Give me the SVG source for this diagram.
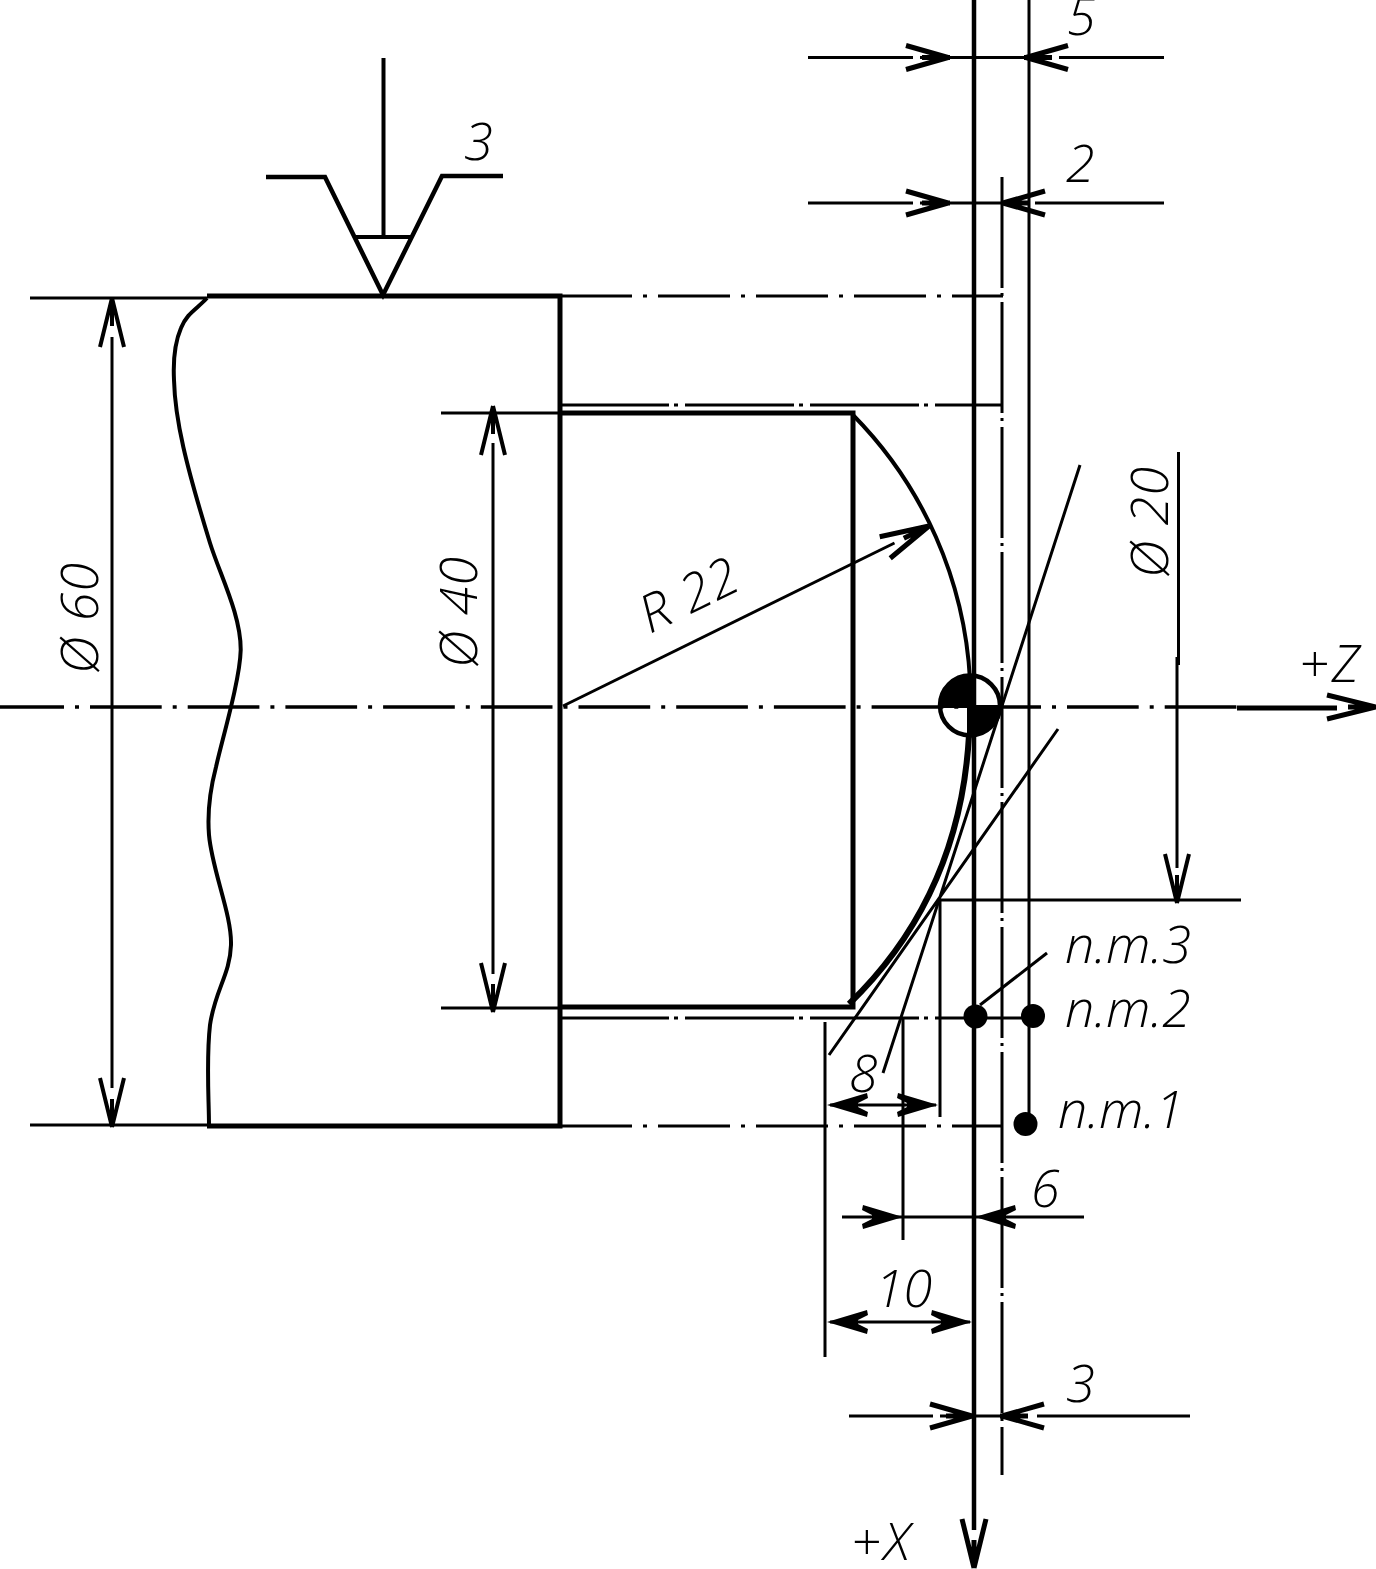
<svg xmlns="http://www.w3.org/2000/svg" width="1376" height="1569" viewBox="0 0 1376 1569">
<style>
.t{font-family:"Open Sans","Liberation Sans",sans-serif;font-weight:300;font-style:italic;font-size:52px;fill:#000}
.w{letter-spacing:3px}
.r{letter-spacing:1px}
.l{fill:none;stroke:#000;stroke-width:3}
.o{fill:none;stroke:#000;stroke-width:5}
.a{fill:none;stroke:#000;stroke-width:4;stroke-linejoin:miter}
.h{fill:none;stroke:#000;stroke-width:5}
.c1{stroke-dasharray:72 11 4 11}
.c2{stroke-dasharray:109 5 4 7}
.d{fill:#000}
</style>
<defs>
<path id="vl" d="M0 0L-49 -12M0 0L-49 12M0 0L-28 0"/>
<path id="vh" d="M-2 0L-44 -12M-2 0L-44 12M0 0L-28 0"/>
<path id="vf" class="d" d="M0 0L-40 -12L-41 -7L-31 -2V2L-41 7L-40 12Z"/>
</defs>
<rect width="1376" height="1569" fill="#fff"/>
<g id="part">
<path class="o" d="M207 296H560V1126H207"/>
<path class="o" d="M560 413H853V1007H560"/>
<path class="o" style="stroke-width:4" d="M207 298C197 309 187 313 181 328C175 342 173 360 174 380C175 420 186 465 210 543C220 575 241 615 240.7 650C240 680 222 740 216 767C210 790 207 810 209 835C212 870 232 915 231 945C230 975 215 990 210 1025C206 1060 209 1100 209 1126"/>
<path class="o" style="stroke-width:4" d="M853 415A408 408 0 0 1 970 680"/>
<path class="o" style="stroke-width:6" d="M969 735C962 860 910 945 849 1004"/>
</g>
<g id="roughness">
<path class="a" style="stroke-width:4.500" d="M266 177H325L383 295L442 176H503"/>
<path class="a" d="M355 237H413"/>
<path class="a" d="M383.500 58V237"/>
</g>
<g id="centerlines">
<path class="l" style="stroke-width:3.500;stroke-dasharray:71.700 11 4 11;stroke-dashoffset:7.700" d="M0 707H1237"/>
<path class="l c1" d="M560 296H1003"/>
<path class="l c2" d="M560 405H1003"/>
<path class="l c2" d="M560 1018H1033"/>
<path class="l c1" d="M560 1126H1003"/>
<path class="l" style="stroke-dasharray:111 5 3 6" d="M1002 177V1475"/>
</g>
<g id="axes">
<path class="o" style="stroke-width:4.500" d="M974 0V1530"/>
<path class="l" d="M1029 0V1120"/>
<use href="#vl" class="h" transform="translate(974 1568) rotate(90)"/>
<path class="o" d="M1237 708H1337"/>
<use href="#vl" class="h" transform="translate(1376 707)"/>
<path class="d" d="M976 708H939.100A31 31 0 0 1 976 675.100Z"/>
<path class="d" d="M967 705H1001A31 31 0 0 1 967 736.400Z"/>
<circle cx="970" cy="705.500" r="30" fill="none" stroke="#000" stroke-width="4.500"/>
</g>
<g id="extensions">
<path class="l" d="M30 298H207M30 1125H207M441 413H560M441 1008H560"/>
<path class="l" d="M940 1117V900H1241"/>
<path class="l" d="M825 1022V1357M903 1018V1240"/>
<path class="l" d="M1080 465L883 1073M1058 729L829 1055"/>
<path class="l" d="M980 1005L1047 953"/>
</g>
<g id="dimensions">
<path class="l" d="M112 337V1088M493 443V974"/>
<use href="#vl" class="a" transform="translate(112 298) rotate(-90)"/>
<use href="#vl" class="a" transform="translate(112 1127) rotate(90)"/>
<use href="#vl" class="a" transform="translate(493 406) rotate(-90)"/>
<use href="#vl" class="a" transform="translate(493 1012) rotate(90)"/>
<path class="l" d="M1178.500 452V665M1177 657V868"/>
<use href="#vl" class="a" transform="translate(1177 903) rotate(90)"/>
<path class="l" d="M563 706L894.500 543"/>
<use href="#vl" class="h" transform="translate(929 526) rotate(-26)"/>
<path class="l" d="M808 57.500H913M920 57.500H1030M1059 57.500H1164"/>
<use href="#vh" class="h" transform="translate(950 57.500)"/>
<use href="#vh" class="h" transform="translate(1024 57.500) rotate(180)"/>
<path class="l" d="M808 203H913M920 203H1005M1035 203H1164"/>
<use href="#vh" class="h" transform="translate(950 203)"/>
<use href="#vh" class="h" transform="translate(1001 203) rotate(180)"/>
<path class="l" d="M849 1416H933M940 1416H1005M1037 1416H1190"/>
<use href="#vh" class="h" transform="translate(974 1416)"/>
<use href="#vh" class="h" transform="translate(1000 1416) rotate(180)"/>
<path class="l" d="M830 1105H936"/>
<use href="#vf" transform="translate(827 1105) rotate(180)"/>
<use href="#vf" transform="translate(938 1105)"/>
<path class="l" d="M842 1217H1084"/>
<use href="#vf" transform="translate(903 1217)"/>
<use href="#vf" transform="translate(975 1217) rotate(180)"/>
<path class="l" d="M830 1322H970"/>
<use href="#vf" transform="translate(827 1322) rotate(180)"/>
<use href="#vf" transform="translate(972 1322)"/>
</g>
<g id="points">
<circle class="d" cx="975.500" cy="1016.500" r="12"/>
<circle class="d" cx="1033" cy="1016" r="12"/>
<circle class="d" cx="1025.500" cy="1124" r="12"/>
</g>
<g id="labels">
<text class="t" x="1067" y="35">5</text>
<text class="t" x="1066" y="182">2</text>
<text class="t" x="464" y="160">3</text>
<text class="t" x="1065" y="963">п.т.3</text>
<text class="t" x="1065" y="1027">п.т.2</text>
<text class="t" x="1058" y="1128">п.т.1</text>
<text class="t" x="849" y="1092">8</text>
<text class="t" x="1031" y="1207">6</text>
<text class="t" x="875" y="1307">10</text>
<text class="t" x="1066" y="1402">3</text>
<text class="t w" x="851" y="1560">+X</text>
<text class="t w" x="1299" y="682">+Z</text>
<text class="t r" transform="translate(1168 578) rotate(-90)">Ø 20</text>
<text class="t r" transform="translate(477 668) rotate(-90)">Ø 40</text>
<text class="t r" transform="translate(98 674) rotate(-90)">Ø 60</text>
<text class="t r" transform="translate(650 634) rotate(-26)">R 22</text>
</g>
</svg>
